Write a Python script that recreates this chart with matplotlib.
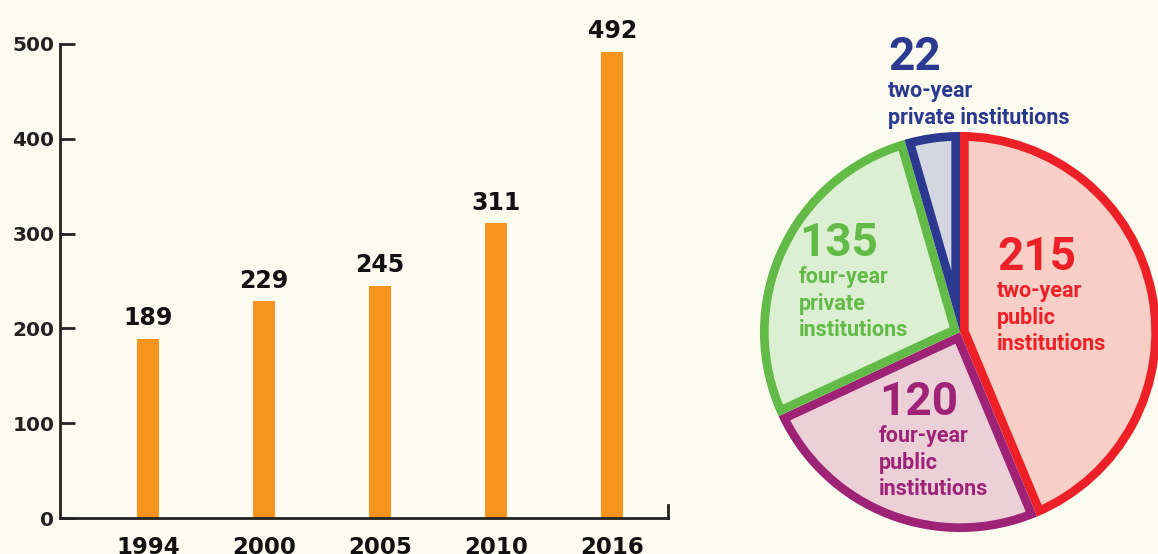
"""Colleges over time: bar chart of totals + pie of the 2016 split."""
import matplotlib
matplotlib.use("Agg")
import matplotlib.pyplot as plt

# ── Palette ───────────────────────────────────────────────
BG     = "#FBFBEF"
ORANGE = "#F7941D"
INK    = "#111111"

# ── Data ──────────────────────────────────────────────────
years  = ["1994", "2000", "2005", "2010", "2016"]
totals = [189, 229, 245, 311, 492]

pie_values = [215, 120, 135, 22]
pie_names  = ["two-year\npublic\ninstitutions",
              "four-year\npublic\ninstitutions",
              "four-year\nprivate\ninstitutions",
              "two-year\nprivate institutions"]
pie_edges  = ["#EE2027", "#9E2377", "#62BB46", "#2B3990"]
pie_faces  = ["#F8CFC6", "#EBD0D8", "#DDEFD3", "#D4D6E0"]

W, H = 1158, 554
fig = plt.figure(figsize=(W / 100, H / 100), dpi=100, facecolor=BG)

# ── Bar chart ─────────────────────────────────────────────
ax = fig.add_axes([60 / W, 36 / H, 608 / W, 474 / H])
ax.set_facecolor(BG)
x = range(len(years))
ax.bar(x, totals, width=0.19, color=ORANGE, zorder=2)
ax.set_xlim(-0.76, 4.48)
ax.set_ylim(0, 500)

for xi, v in zip(x, totals):
    ax.annotate(str(v), (xi, v), xytext=(0, 6), textcoords="offset points",
                ha="center", va="bottom", fontsize=17, fontweight="bold",
                color=INK, family="DejaVu Sans")

ax.set_xticks(list(x))
ax.set_xticklabels(years, fontsize=16.5, fontweight="bold", color=INK)
ax.tick_params(axis="x", length=0, pad=13)
ax.set_yticks([0, 100, 200, 300, 400, 500])
ax.tick_params(axis="y", direction="in", length=11, width=2, color="#222222",
               labelsize=14.5, labelcolor="#222222", pad=4)
for lab in ax.get_yticklabels():
    lab.set_fontweight("bold")

ax.spines["top"].set_visible(False)
for s in ["left", "bottom", "right"]:
    ax.spines[s].set_linewidth(2)
    ax.spines[s].set_color("#222222")
ax.spines["right"].set_bounds(0, 14)

# ── Pie ───────────────────────────────────────────────────
R = 200
CX, CY = 960, 332
pax = fig.add_axes([(CX - R) / W, (H - CY - R) / H, 2 * R / W, 2 * R / H])
wedges, _ = pax.pie(pie_values, startangle=90, counterclock=False, radius=1.0,
                    colors=pie_faces, wedgeprops=dict(linewidth=12.5))
pax.set_xlim(-1, 1)
pax.set_ylim(-1, 1)
pax.axis("off")
# border kept inside each slice: stroke clipped to the slice itself
for w, ec in zip(wedges, pie_edges):
    w.set_edgecolor(ec)
    w.set_clip_path(w.get_path(), w.get_transform())
    w.set_clip_on(True)

# label anchors (pixel coords of the big number's left edge / centre)
label_pos = [(997, 257), (879, 402), (799, 243), (888, 57)]
for (px, py), v, name, ec in zip(label_pos, pie_values, pie_names, pie_edges):
    pax.text(px / W, 1 - py / H, str(v), fontsize=33, fontweight="bold",
             color=ec, family="Roboto", ha="left", va="center",
             transform=fig.transFigure, zorder=5, clip_on=False)
    pax.text(px / W, 1 - (py + 23) / H, name, fontsize=15.5, fontweight="bold",
             color=ec, family="Roboto", ha="left", va="top", linespacing=1.27,
             transform=fig.transFigure, zorder=5, clip_on=False)

fig.savefig("out.png", dpi=100, facecolor=BG)
